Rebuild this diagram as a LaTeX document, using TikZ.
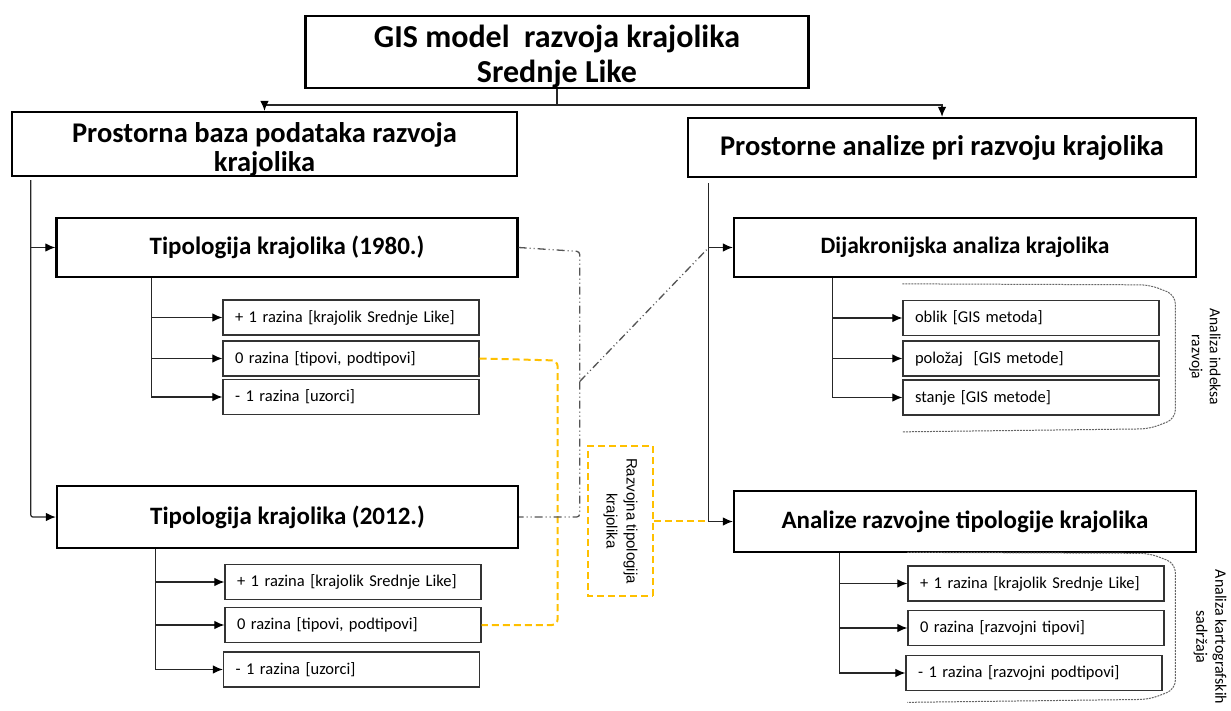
\documentclass[tikz,border=0pt]{standalone}
\usepackage{fontspec}
\setmainfont{Carlito}
\newfontfamily\arialfont{Liberation Sans}
\usetikzlibrary{arrows.meta}

\definecolor{zuta}{RGB}{255,192,0}
\definecolor{siva}{RGB}{85,85,85}

\begin{document}
\begin{tikzpicture}[x=1pt,y=-1pt,
  glavni/.style={draw,line width=2.4pt,inner sep=0pt,align=center,font=\bfseries\fontsize{28.5}{29}\selectfont},
  tipbox/.style={draw,line width=2.4pt,inner sep=0pt,minimum width=461pt,minimum height=60pt,font=\bfseries\fontsize{25}{28}\selectfont},
  razbox/.style={draw=black!80,line width=1.3pt,inner xsep=12pt,inner ysep=0pt,text width=232pt,minimum height=35pt,align=left,font=\fontsize{16.5}{18}\selectfont},
  veza/.style={line width=1.2pt,black!85,-{Latex[length=10pt,width=8.5pt,color=black]}},
  zutaveza/.style={line width=2pt,zuta,dash pattern=on 7pt off 4pt},
  dashdot/.style={line width=1.3pt,siva,dash pattern=on 8pt off 3pt on 1pt off 3pt on 1pt off 3pt},
  zagrada/.style={line width=1pt,black!60,dash pattern=on 2pt off 1pt,rounded corners=9pt},
  oznaka/.style={rotate=-90,align=center,font=\fontsize{15.5}{18}\selectfont}
]
\useasboundingbox (0,0) rectangle (1231,711);

\node[glavni,minimum width=503pt,minimum height=71pt,text height=67pt,font=\bfseries\fontsize{32}{35}\selectfont] (gis) at (557,52) {GIS model~ razvoja krajolika\\Srednje Like};
\node[glavni,minimum width=505pt,minimum height=62pt,text height=59pt] (baza) at (264.5,144) {Prostorna baza podataka razvoja\\krajolika};
\node[glavni,minimum width=508pt,minimum height=59pt] (analize) at (942,147.5) {Prostorne analize pri razvoju krajolika};

\node[tipbox,minimum height=59pt] (tip80) at (287,247.5) {Tipologija krajolika (1980.)};
\node[tipbox,minimum height=62pt] (tip12) at (287.5,517) {Tipologija krajolika (2012.)};
\node[tipbox,minimum width=462pt,minimum height=59pt,font=\bfseries\fontsize{23.5}{28}\selectfont] (dijak) at (965,247.5) {Dijakronijska analiza krajolika};
\node[tipbox,minimum width=462pt,minimum height=61pt] (razv) at (965,521.5) {Analize razvojne tipologije krajolika};

\node[razbox] (s80a) at (351,317.5) {+ 1 razina [krajolik Srednje Like]};
\node[razbox] (s80b) at (351,358.5) {0 razina [tipovi, podtipovi]};
\node[razbox] (s80c) at (351,397) {- 1 razina [uzorci]};

\node[razbox] (s12a) at (353,582) {+ 1 razina [krajolik Srednje Like]};
\node[razbox] (s12b) at (353,625) {0 razina [tipovi, podtipovi]};
\node[razbox] (s12c) at (351.5,669.5) {- 1 razina [uzorci]};

\node[razbox] (d1) at (1031,318) {oblik [GIS metoda]};
\node[razbox] (d2) at (1031,358.5) {položaj~ [GIS metode]};
\node[razbox] (d3) at (1031,397.5) {stanje [GIS metode]};

\node[razbox] (r1) at (1036,583.5) {+ 1 razina [krajolik Srednje Like]};
\node[razbox] (r2) at (1036,628) {0 razina [razvojni tipovi]};
\node[razbox] (r3) at (1034,673) {- 1 razina [razvojni podtipovi]};

\node[draw=zuta,zutaveza,rotate=-90,minimum width=150pt,minimum height=65pt,align=center,font=\arialfont\fontsize{15}{20}\selectfont,text=black] (rtk) at (620.5,521) {Razvojna tipologija\\krajolika};

\node[oznaka] (lind) at (1205,357) {Analiza indeksa\\razvoja};
\node[oznaka,font=\fontsize{16}{19}\selectfont] (lkart) at (1210,637) {Analiza kartografskih\\sadržaja};

\draw[veza] (gis.south) -- ++(0,15.5) -| (baza.north);
\draw[veza] (gis.south) -- ++(0,15.5) -| (analize.north);

\path (baza.south west) ++(20,3) coordinate (ltop);
\draw[veza] (ltop) |- (tip80.west);
\draw[veza,rounded corners=2pt] (ltop) |- (tip12.west);

\path (analize.south west) ++(22,5) coordinate (dtop);
\draw[veza] (dtop) |- (dijak.west);
\draw[veza] (dtop) |- (razv.west);

\draw[veza] (tip80.south west) ++(96,0) |- (s80a.west);
\draw[veza] (tip80.south west) ++(96,0) |- (s80b.west);
\draw[veza] (tip80.south west) ++(96,0) |- (s80c.west);

\draw[veza] (tip12.south west) ++(100,0) |- (s12a.west);
\draw[veza] (tip12.south west) ++(100,0) |- (s12b.west);
\draw[veza] (tip12.south west) ++(100,0) |- (s12c.west);

\draw[veza] (dijak.south west) ++(100,0) |- (d1.west);
\draw[veza] (dijak.south west) ++(100,0) |- (d2.west);
\draw[veza] (dijak.south west) ++(100,0) |- (d3.west);

\draw[veza] (razv.south west) ++(107,0) |- (r1.west);
\draw[veza] (razv.south west) ++(107,0) |- (r2.west);
\draw[veza] (razv.south west) ++(107,0) |- (r3.west);

\draw[zutaveza,rounded corners=6pt] (s80b.east) -- ++(78,2) |- (s12b.east);
\draw[zutaveza] (rtk.north) -- (rtk.north -| dtop);

\draw[dashdot,rounded corners=3pt] (tip80.east) -- ++(61,4) |- (tip12.east);
\draw[dashdot] (tip80.east) ++(61,134) -- (dtop |- dijak.west);

\draw[zagrada] (d1.north west) ++(0,-16) -- ++(247,1) -- ++(26,10) -- ++(0,124) -- ++(-26,10) -- ++(-247,3);
\draw[zagrada] (r1.north west) ++(0,-13) -- ++(242,1) -- ++(26,10) -- ++(0,126) -- ++(-26,10) -- ++(-242,3);
\end{tikzpicture}
\end{document}
